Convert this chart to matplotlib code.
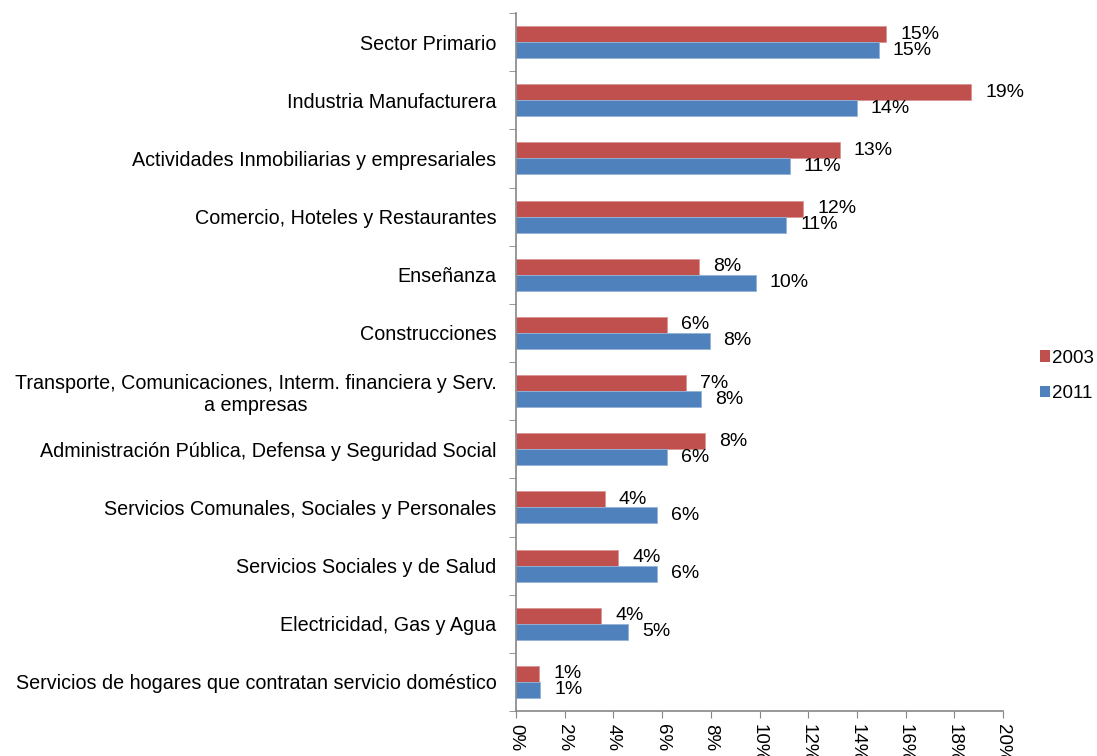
import numpy as np
import matplotlib.pyplot as plt
from matplotlib.patches import Patch

plt.rcParams['font.family'] = ['Liberation Sans', 'DejaVu Sans']

categories = [
    'Sector Primario',
    'Industria Manufacturera',
    'Actividades Inmobiliarias y empresariales',
    'Comercio, Hoteles y Restaurantes',
    'Enseñanza',
    'Construcciones',
    'Transporte, Comunicaciones, Interm. financiera y Serv.\na empresas',
    'Administración Pública, Defensa y Seguridad Social',
    'Servicios Comunales, Sociales y Personales',
    'Servicios Sociales y de Salud',
    'Electricidad, Gas y Agua',
    'Servicios de hogares que contratan servicio doméstico',
]
vals_2003 = [15.2, 18.7, 13.3, 11.8, 7.5, 6.2, 7.0, 7.75, 3.65, 4.2, 3.5, 0.95]
vals_2011 = [14.9, 14.0, 11.25, 11.1, 9.85, 7.95, 7.6, 6.2, 5.8, 5.8, 4.6, 1.0]
xticks = list(range(0, 21, 2))

RED = '#C0504D'
BLUE = '#4F81BD'
AXIS = '#868686'
FS = 13.5

fig = plt.figure(figsize=(10.97, 7.56), dpi=100)
ax = fig.add_axes([516 / 1097, 45 / 756, 487 / 1097, 698 / 756])

y = np.arange(len(categories))
h = 0.275
bars_a = ax.barh(y - h / 2, vals_2003, height=h, color=RED, edgecolor='#D99694', linewidth=0.6)
bars_b = ax.barh(y + h / 2, vals_2011, height=h, color=BLUE, edgecolor='#95B3D7', linewidth=0.6)

# etiquetas de datos
for bars, vals in ((bars_a, vals_2003), (bars_b, vals_2011)):
    for b, v in zip(bars, vals):
        ax.annotate(f'{round(v):.0f}%', (v, b.get_y() + b.get_height() / 2),
                    xytext=(14, 0), textcoords='offset pixels',
                    va='center', ha='left', fontsize=14)

ax.set_xlim(0, 20)
ax.set_ylim(len(categories) - 0.5, -0.5)
ax.set_xticks(xticks)
ax.set_xticklabels([f'{t}%' for t in xticks], rotation=-90, va='top', ha='center')
ax.tick_params(axis='x', labelsize=FS, length=5, color=AXIS, pad=4)

ax.set_yticks(y)
ax.set_yticklabels(categories, fontsize=14.2, multialignment='center')
ax.set_yticks(np.arange(-0.5, len(categories), 1), minor=True)
ax.tick_params(axis='y', which='major', length=0, pad=14)
ax.tick_params(axis='y', which='minor', length=5, color=AXIS)

for s in ('top', 'right'):
    ax.spines[s].set_visible(False)
for s in ('left', 'bottom'):
    ax.spines[s].set_color(AXIS)
    ax.spines[s].set_linewidth(1.2)

handles = [Patch(facecolor=RED, label='2003'), Patch(facecolor=BLUE, label='2011')]
fig.legend(handles=handles, loc='center left', bbox_to_anchor=(1040 / 1097, 1 - 376 / 756),
           frameon=False, fontsize=FS, handlelength=0.55, handleheight=0.55,
           handletextpad=0.1, labelspacing=1.0, borderpad=0, borderaxespad=0)

fig.savefig('out.png', dpi=100)
